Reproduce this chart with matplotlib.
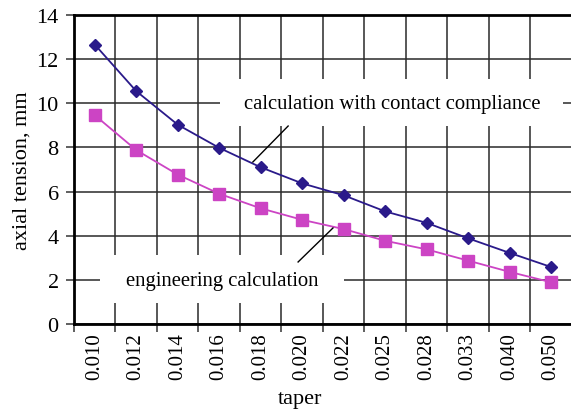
import numpy as np
import matplotlib
matplotlib.use('Agg')
from matplotlib import pyplot as plt
from matplotlib.patches import Rectangle

# data
tapers = ['0.010', '0.012', '0.014', '0.016', '0.018', '0.020',
          '0.022', '0.025', '0.028', '0.033', '0.040', '0.050']
contact = [12.66, 10.55, 9.03, 7.98, 7.1, 6.37, 5.83, 5.1, 4.58, 3.88, 3.22, 2.58]
engineering = [9.46, 7.88, 6.77, 5.9, 5.24, 4.72, 4.3, 3.77, 3.38, 2.87, 2.36, 1.89]

plt.rcParams['font.family'] = ['Liberation Serif', 'DejaVu Serif']

fig = plt.figure(figsize=(5.71, 4.14), dpi=100)
ax = fig.add_axes([74 / 571, 89 / 414, 498 / 571, 309 / 414])

x = np.arange(len(tapers))
ax.plot(x, contact, color='#2a1a8a', lw=1.3, marker='D', ms=6.5, zorder=3)
ax.plot(x, engineering, color='#cc44c4', lw=1.3, marker='s', ms=8, zorder=3)

ax.set_xlim(-0.5, len(tapers) - 0.5)
ax.set_ylim(0, 14)
ax.set_yticks(np.arange(0, 15, 2))
ax.set_xticks(x)
ax.set_xticklabels(tapers, rotation=90, fontsize=15)
ax.set_xticks(np.arange(-0.5, len(tapers), 1), minor=True)
ax.tick_params(axis='x', which='major', length=0, pad=6)
ax.tick_params(axis='x', which='minor', length=6, width=1.2, color='#444444')
ax.tick_params(axis='y', labelsize=16, length=6, width=1.2, color='#444444', pad=5)

ax.set_axisbelow(True)
ax.grid(True, which='minor', axis='x', color='#2a2a2a', lw=1.1)
ax.grid(True, which='major', axis='y', color='#2a2a2a', lw=1.1)

for s in ['left', 'bottom', 'top']:
    ax.spines[s].set_linewidth(2)
ax.spines['right'].set_visible(False)

ax.set_ylabel('axial tension, mm', fontsize=16)
ax.yaxis.set_label_coords(-0.086, 0.5)
ax.set_xlabel('taper', fontsize=16)
ax.xaxis.set_label_coords(0.454, -0.21)

# label boxes hiding the grid
ax.add_patch(Rectangle((3.02, 8.97), 8.26, 2.13, facecolor='white', edgecolor='none', zorder=1))
ax.add_patch(Rectangle((0.13, 0.95), 5.87, 2.18, facecolor='white', edgecolor='none', zorder=1))

ax.text(7.16, 10.0, 'calculation with contact compliance', fontsize=14.9,
        ha='center', va='center', zorder=4)
ax.text(3.07, 1.95, 'engineering calculation', fontsize=14.9,
        ha='center', va='center', zorder=4)
ax.plot([3.81, 4.66], [7.34, 8.97], color='black', lw=1, zorder=4)
ax.plot([4.90, 5.74], [2.81, 4.35], color='black', lw=1, zorder=4)

fig.savefig('out.png', dpi=100)
